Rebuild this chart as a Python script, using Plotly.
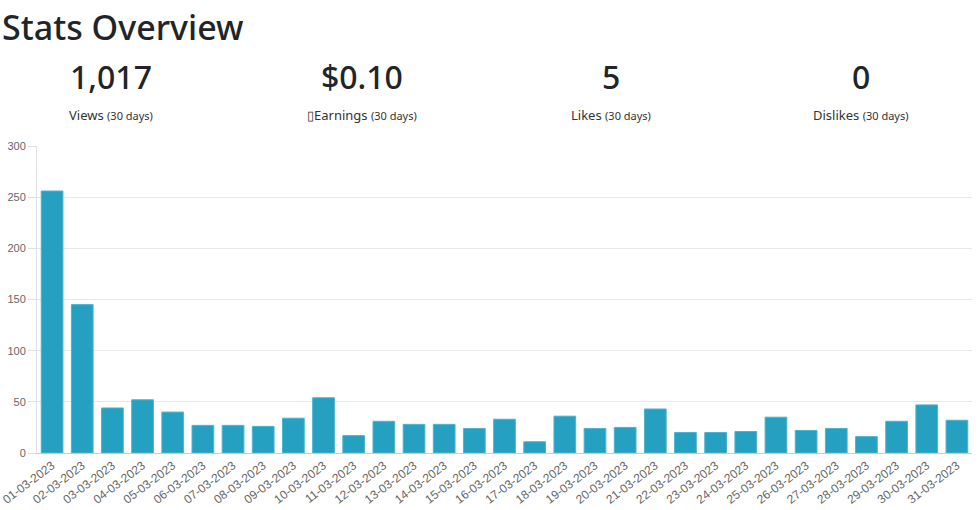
import plotly.graph_objects as go

# daily views, March 2023
dates = [f"{d:02d}-03-2023" for d in range(1, 32)]
views = [256, 145, 44, 52, 40, 27, 27, 26, 34, 54, 17, 31, 28, 28, 24, 33,
         11, 36, 24, 25, 43, 20, 20, 21, 35, 22, 24, 16, 31, 47, 32]

stat_values = ["1,017", "$0.10", "5", "0"]
stat_labels = ["Views", "\u25afEarnings", "Likes", "Dislikes"]
stat_period = "(30 days)"

BAR_COLOR = "#25a0c1"
TEXT_COLOR = "#212529"

fig = go.Figure()
fig.add_trace(go.Bar(
    x=dates, y=views,
    marker=dict(color=BAR_COLOR, line=dict(color="#4db3cf", width=1)),
    hoverinfo="x+y",
))

W, H = 978, 510
m_l, m_r, m_t, m_b = 37, 6, 146, 57

def px_x(p):
    return (p - m_l) / (W - m_l - m_r)

def px_y(p):
    return (H - m_b - p) / (H - m_t - m_b)

annotations = [dict(
    text="Stats Overview", x=px_x(0), y=px_y(27), xref="paper", yref="paper",
    xanchor="left", yanchor="middle", showarrow=False,
    font=dict(family="Noto Sans, Open Sans, sans-serif", size=34, weight=500, color=TEXT_COLOR),
)]

centers = [111, 362, 611, 861]
for cx, val, lab in zip(centers, stat_values, stat_labels):
    annotations.append(dict(
        text=val, x=px_x(cx), y=px_y(77), xref="paper", yref="paper",
        xanchor="center", yanchor="middle", showarrow=False,
        font=dict(family="Noto Sans, Open Sans, sans-serif", size=32, weight=500, color=TEXT_COLOR),
    ))
    annotations.append(dict(
        text=f"{lab} <span style='font-size:11px'>{stat_period}</span>",
        x=px_x(cx), y=px_y(115), xref="paper", yref="paper",
        xanchor="center", yanchor="middle", showarrow=False,
        font=dict(family="Noto Sans, Open Sans, sans-serif", size=13, color="#333333"),
    ))

fig.update_layout(
    width=W, height=H,
    margin=dict(l=m_l, r=m_r, t=m_t, b=m_b, autoexpand=False),
    paper_bgcolor="white", plot_bgcolor="white",
    showlegend=False,
    bargap=0.28,
    annotations=annotations,
    font=dict(family="Liberation Sans, Arial, sans-serif", size=12, color="#666666"),
    xaxis=dict(
        type="category", tickangle=-37, showgrid=False, automargin=False,
        showline=True, linecolor="#cccccc", linewidth=1,
        ticks="", tickfont=dict(size=12, color="#666666"),
    ),
    yaxis=dict(
        range=[0, 300], dtick=50, showgrid=True, gridcolor="#e8e8e8",
        showline=True, linecolor="#e0e0e0", zeroline=False, automargin=False,
        ticks="outside", ticklen=8, tickcolor="#e0e0e0",
        tickfont=dict(size=11, color="#666666"),
    ),
)

# page has a default body margin, drop it so the figure sits at the corner
fig.write_html("out.html", config={"displayModeBar": False},
               post_script="document.body.style.margin='0';")
